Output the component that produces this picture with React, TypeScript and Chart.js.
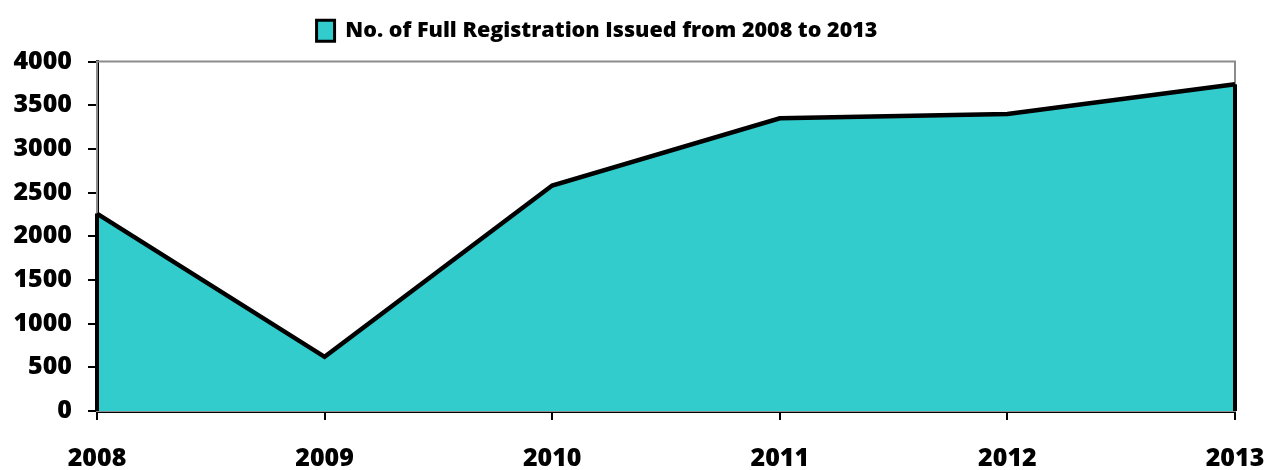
import React, { useEffect, useRef } from "react";
import { Chart, registerables } from "chart.js";

Chart.register(...registerables);

const years = ["2008", "2009", "2010", "2011", "2012", "2013"];
const registrations = [2260, 620, 2580, 3350, 3400, 3740];
const seriesLabel = "No. of Full Registration Issued from 2008 to 2013";
const yTicks = [0, 500, 1000, 1500, 2000, 2500, 3000, 3500, 4000];

const FONT = "'Open Sans', Lato, sans-serif";

const framePlugin = {
  id: "frame",
  afterLayout(chart: any) {
    const l = chart.legend;
    if (l) {
      l.left -= 37;
      l.right -= 37;
      l.top -= 10;
      l.bottom -= 10;
    }
  },
  beforeDatasetsDraw(chart: any) {
    const { ctx, chartArea } = chart;
    ctx.save();
    ctx.strokeStyle = "#8c8c8c";
    ctx.lineWidth = 2;
    ctx.strokeRect(chartArea.left, chartArea.top, chartArea.right - chartArea.left, chartArea.bottom - chartArea.top);
    ctx.restore();
  },
  afterDatasetsDraw(chart: any) {
    const { ctx, chartArea } = chart;
    const meta = chart.getDatasetMeta(0);
    const pts = meta.data;
    if (!pts.length) return;
    const last = pts[pts.length - 1];
    const first = pts[0];
    ctx.save();
    ctx.strokeStyle = "#000";
    ctx.lineWidth = 4;
    ctx.lineCap = "butt";
    ctx.beginPath();
    ctx.moveTo(last.x, last.y);
    ctx.lineTo(last.x, chartArea.bottom);
    ctx.moveTo(first.x, first.y);
    ctx.lineTo(first.x, chartArea.bottom);
    ctx.stroke();
    ctx.restore();
  },
};

export default function App() {
  const ref = useRef<HTMLCanvasElement>(null);
  useEffect(() => {
    if (!ref.current) return;
    const chart = new Chart(ref.current, {
      type: "line",
      data: {
        labels: years,
        datasets: [
          {
            label: seriesLabel,
            data: registrations,
            fill: "origin",
            backgroundColor: "#33CCCC",
            borderColor: "#000000",
            borderWidth: 4.5,
            pointRadius: 0,
            tension: 0,
          },
        ],
      },
      plugins: [framePlugin],
      options: {
        responsive: false,
        animation: false,
        layout: { padding: { left: 0, right: 0, top: -14, bottom: 0 } },
        plugins: {
          tooltip: { enabled: false },
          legend: {
            display: true,
            position: "top",
            labels: {
              color: "#000",
              font: { family: FONT, size: 21.5, weight: "800" },
              boxWidth: 18,
              boxHeight: 21,
              padding: 44,
              generateLabels: () => [
                {
                  text: seriesLabel,
                  fillStyle: "#33CCCC",
                  strokeStyle: "#000",
                  lineWidth: 3,
                  hidden: false,
                  datasetIndex: 0,
                },
              ],
            },
          },
        },
        scales: {
          x: {
            type: "category",
            offset: false,
            afterFit: (scale: any) => {
              scale.height = 59;
              scale.paddingLeft = 0;
              scale.paddingRight = 33;
            },
            grid: {
              drawOnChartArea: false,
              drawTicks: true,
              tickLength: 9,
              color: "#000",
              lineWidth: 2,
            },
            border: { display: true, color: "#000", width: 3 },
            ticks: {
              color: "#000",
              font: { family: FONT, size: 25, weight: "800" },
              padding: 24,
              maxRotation: 0,
              autoSkip: false,
            },
          },
          y: {
            min: 0,
            max: 4000,
            afterBuildTicks: (axis: any) => {
              axis.ticks = yTicks.map((v) => ({ value: v }));
            },
            afterFit: (scale: any) => {
              scale.width = 97;
            },
            grid: {
              drawOnChartArea: false,
              drawTicks: true,
              tickLength: 9,
              color: "#000",
              lineWidth: 2,
            },
            border: { display: true, color: "#000", width: 3 },
            ticks: {
              color: "#000",
              font: { family: FONT, size: 25, weight: "800" },
              padding: 16,
              callback: (v: any) => String(v),
            },
          },
        },
      },
    });
    return () => chart.destroy();
  }, []);
  return (
    <div style={{ position: "fixed", left: 0, top: 0, width: 1268, height: 470, background: "#fff" }}>
      <canvas ref={ref} width={1268} height={470} style={{ display: "block" }} />
    </div>
  );
}
